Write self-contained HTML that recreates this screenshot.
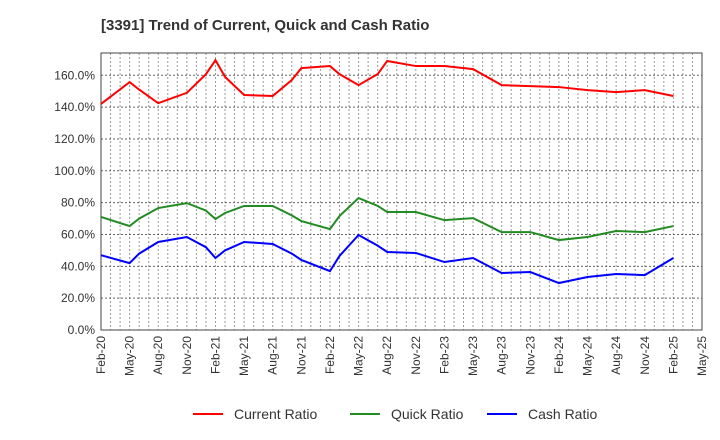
<!DOCTYPE html>
<html><head><meta charset="utf-8"><style>
body{margin:0;background:#fff;}
svg{display:block;font-family:"Liberation Sans",sans-serif;}
</style></head><body>
<svg id="chart" width="720" height="440">
<text x="101" y="30" font-size="15" font-weight="bold" fill="#333">[3391]  Trend of Current, Quick and Cash Ratio</text>
<g id="grid"></g><g id="axes"></g><g id="series"></g><g id="legend"></g>
</svg>
<script>
const months=[0,3,4,6,9,11,12,13,15,18,20,21,24,25,27,29,30,33,36,39,42,45,48,51,54,57,60];
const currentRatio=[142,155.7,151,142.5,149,160.7,169.5,159,147.6,147,157,164.5,165.8,160.7,153.8,160.7,169,165.8,165.8,163.9,153.8,153.2,152.6,150.7,149.4,150.7,147];
const quickRatio=[71,65.3,70,76.6,79.7,75,69.7,73.5,77.9,77.9,72,68.4,63.4,71.6,82.9,78,74.1,74.1,69,70.3,61.5,61.5,56.5,58.4,62.2,61.5,65.3];
const cashRatio=[47,42,48,55.3,58.4,52,45.2,50,55.3,54,48,44,37,46.5,59.7,53,49,48.4,42.7,45.2,35.8,36.4,29.5,33.3,35.2,34.5,45.2];
const yTicks=[0,20,40,60,80,100,120,140,160];
const xTickLabels=["Feb-20","May-20","Aug-20","Nov-20","Feb-21","May-21","Aug-21","Nov-21","Feb-22","May-22","Aug-22","Nov-22","Feb-23","May-23","Aug-23","Nov-23","Feb-24","May-24","Aug-24","Nov-24","Feb-25","May-25"];
const L=101,R=702,T=53,B=330,maxM=63,maxY=174;
const NS="http://www.w3.org/2000/svg";
const X=m=>L+(R-L)*m/maxM;
const Y=v=>B-(B-T)*v/maxY;
function mk(tag,attrs,parent){const e=document.createElementNS(NS,tag);for(const k in attrs)e.setAttribute(k,attrs[k]);parent.appendChild(e);return e;}
const grid=document.getElementById('grid'),axes=document.getElementById('axes'),ser=document.getElementById('series'),leg=document.getElementById('legend');
for(let m=1;m<maxM;m++){const l=mk('line',{x1:X(m),x2:X(m),y1:T,y2:B,stroke:'#999','stroke-dasharray':'2,2','stroke-width':1},grid);

}
yTicks.forEach(v=>{if(v>0){const l=mk('line',{x1:L,x2:R,y1:Y(v),y2:Y(v),stroke:'#666','stroke-dasharray':'2,2','stroke-width':1},grid);

}
const t=mk('text',{x:L-6,y:Y(v)+4,'text-anchor':'end','font-size':12,fill:'#333'},axes);t.textContent=v.toFixed(1)+'%';

});
const frame=mk('rect',{x:L,y:T,width:R-L,height:B-T,fill:'none',stroke:'#444','stroke-width':1},axes);


xTickLabels.forEach((s,i)=>{const x=X(i*3);const t=mk('text',{x:x+4,y:B+6,'text-anchor':'end','font-size':12,fill:'#333',transform:`rotate(-90 ${x+4} ${B+6})`},axes);t.textContent=s;

});
const series=[["current-ratio-line",currentRatio,"#ff0000","Current Ratio",193],["quick-ratio-line",quickRatio,"#228b22","Quick Ratio",350],["cash-ratio-line",cashRatio,"#0000ff","Cash Ratio",487]];
series.forEach(([n,vals,c,label,lx])=>{const p=mk('polyline',{points:vals.map((v,i)=>X(months[i])+','+Y(v)).join(' '),fill:'none',stroke:c,'stroke-width':2},ser);


const g=mk('g',{},leg);


mk('line',{x1:lx,x2:lx+30,y1:414,y2:414,stroke:c,'stroke-width':2},g);
const t=mk('text',{x:lx+41,y:419,'font-size':14,fill:'#333'},g);t.textContent=label;});
</script>
</body></html>
